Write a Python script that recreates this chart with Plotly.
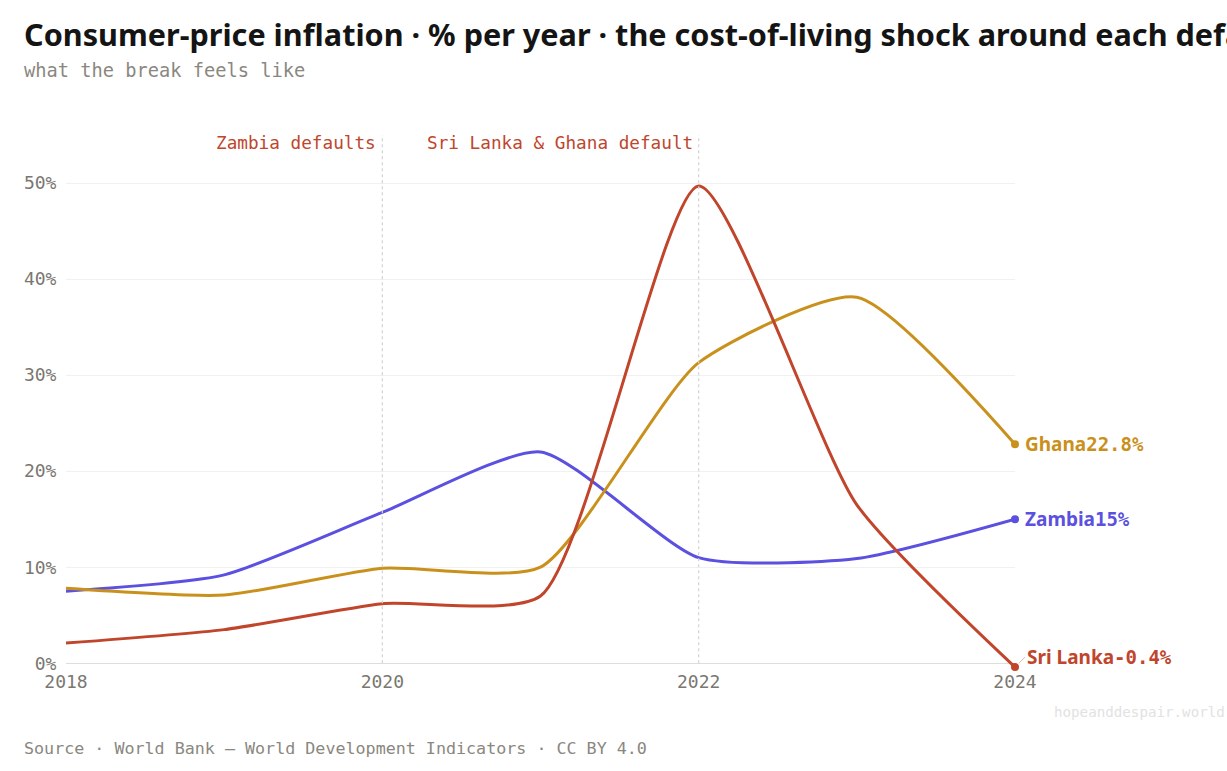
import plotly.graph_objects as go

years = [2018, 2019, 2020, 2021, 2022, 2023, 2024]
zambia = [7.5, 9.2, 15.7, 22.0, 11.0, 10.9, 15.0]
ghana = [7.8, 7.1, 9.9, 10.0, 31.3, 38.1, 22.8]
sri_lanka = [2.1, 3.5, 6.2, 7.0, 49.7, 16.5, -0.4]

series = [
    ("Zambia", zambia, "#5b50e0"),
    ("Ghana", ghana, "#c9911c"),
    ("Sri Lanka", sri_lanka, "#c0452b"),
]
defaults = [(2020, "Zambia defaults"), (2022, "Sri Lanka & Ghana default")]
y_ticks = [0, 10, 20, 30, 40, 50]
x_ticks = [2018, 2020, 2022, 2024]

MONO = "DejaVu Sans Mono"
SANS = "Noto Sans"

fig = go.Figure()
for name, vals, col in series:
    fig.add_trace(go.Scatter(
        x=years, y=vals, mode="lines", name=name,
        line=dict(color=col, width=3, shape="spline", smoothing=0.6),
        hoverinfo="skip",
    ))
    # end marker
    fig.add_trace(go.Scatter(
        x=[years[-1]], y=[vals[-1]], mode="markers",
        marker=dict(color=col, size=8), cliponaxis=False,
        hoverinfo="skip",
    ))
    label = (f"<b>{name}</b><span style='font-family:{MONO}'><b>"
             f"{vals[-1]:g}%</b></span>")
    if name == "Sri Lanka":
        fig.add_annotation(x=years[-1], y=vals[-1], text=label, xanchor="left",
                           yanchor="middle", showarrow=True, arrowhead=0,
                           arrowwidth=1, arrowcolor="#e9b9ae", ax=10, ay=-10,
                           standoff=5, font=dict(family=SANS, size=19, color=col))
    else:
        fig.add_annotation(x=years[-1], y=vals[-1], text=label, xanchor="left",
                           yanchor="middle", showarrow=False, xshift=8,
                           font=dict(family=SANS, size=19, color=col))

for yr, txt in defaults:
    fig.add_shape(type="line", x0=yr, x1=yr, y0=0, y1=55,
                  line=dict(color="#d4d4d4", width=1.2, dash="dot"))
    fig.add_annotation(x=yr, y=54.2, text=txt, showarrow=False,
                       xanchor="right", yanchor="middle", xshift=-4,
                       font=dict(family=MONO, size=17.7, color="#c0452b"))

fig.add_annotation(xref="paper", yref="paper", x=-0.0443, y=1.12, xshift=-2,
                   text="what the break feels like", showarrow=False,
                   xanchor="left", yanchor="middle",
                   font=dict(family=MONO, size=18.7, color="#8a8780"))
fig.add_annotation(xref="paper", yref="paper", x=-0.0443, y=-0.148, xshift=-2,
                   text="Source · World Bank — World Development Indicators · CC BY 4.0",
                   showarrow=False, xanchor="left", yanchor="middle",
                   font=dict(family=MONO, size=16.7, color="#8a8780"))
fig.add_annotation(xref="paper", yref="paper", x=1.2202, y=-0.081, xshift=3,
                   text="hopeanddespair.world", showarrow=False,
                   xanchor="right", yanchor="middle",
                   font=dict(family=MONO, size=14.2, color="#e2e2e2"))

fig.update_layout(
    width=1227, height=771,
    margin=dict(l=66, r=212, t=135, b=102),
    paper_bgcolor="white", plot_bgcolor="white",
    showlegend=False,
    title=dict(
        text="<b>Consumer-price inflation · % per year · the cost-of-living shock around each default</b>",
        x=24 / 1227, xanchor="left", xref="container",
        y=1 - 35 / 771, yanchor="middle", yref="container",
        font=dict(family=SANS, size=30.6, color="#141414"),
    ),
    xaxis=dict(
        range=[2018, 2024], tickvals=x_ticks,
        showgrid=False, zeroline=False, showline=False,
        tickfont=dict(family=MONO, size=18, color="#7a7771"),
        ticks="", fixedrange=True,
    ),
    yaxis=dict(
        range=[-0.6, 55], tickvals=y_ticks,
        ticktext=[f"{v}%" for v in y_ticks],
        showgrid=True, gridcolor="#f1f1f1", gridwidth=1,
        zeroline=True, zerolinecolor="#dddddd", zerolinewidth=1.2,
        showline=False,
        tickfont=dict(family=MONO, size=18, color="#7a7771"),
        ticks="outside", ticklen=5, tickcolor="rgba(0,0,0,0)",
        fixedrange=True,
    ),
)

fig.write_html("out.html", config={"displayModeBar": False},
               post_script="document.body.style.margin='0';")
